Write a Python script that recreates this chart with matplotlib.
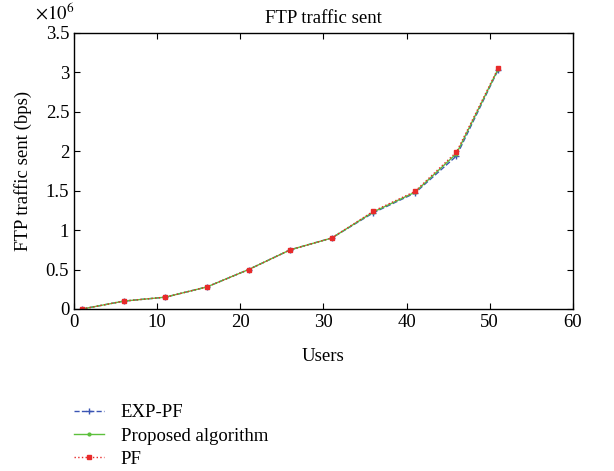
import numpy as np
import matplotlib
matplotlib.use('Agg')
import matplotlib.pyplot as plt
import matplotlib.ticker as ticker

plt.rcParams['font.family'] = ['Liberation Serif', 'DejaVu Serif']
plt.rcParams['mathtext.fontset'] = 'stix'

# Data (bps, scaled by 1e6)
users = [1, 6, 11, 16, 21, 26, 31, 36, 41, 46, 51]
exp_pf = [0.0, 0.10, 0.15, 0.28, 0.50, 0.75, 0.90, 1.22, 1.47, 1.94, 3.03]
proposed = [0.0, 0.10, 0.15, 0.28, 0.50, 0.75, 0.90, 1.23, 1.48, 1.97, 3.04]
pf = [0.0, 0.10, 0.15, 0.28, 0.50, 0.75, 0.90, 1.24, 1.49, 1.99, 3.05]

x_ticks = [0, 10, 20, 30, 40, 50, 60]
y_ticks = [0, 0.5, 1, 1.5, 2, 2.5, 3, 3.5]

FS = 13.5


def main():
    fig = plt.figure(figsize=(6.14, 4.71), dpi=100)
    ax = fig.add_axes([0.1205, 0.344, 0.8125, 0.586])

    ax.plot(users, exp_pf, color='#3a55b4', linestyle='--', marker='+',
            markersize=5, linewidth=1.0, label='EXP-PF')
    ax.plot(users, proposed, color='#5cc03c', linestyle='-', marker='.',
            markersize=4, linewidth=1.0, label='Proposed algorithm')
    ax.plot(users, pf, color='#e82a2a', linestyle=':', marker='s',
            markersize=3.5, linewidth=1.0, label='PF')

    ax.set_xlim(0, 60)
    ax.set_ylim(0, 3.5)
    ax.set_xticks(x_ticks)
    ax.set_yticks(y_ticks)
    ax.yaxis.set_major_formatter(ticker.FuncFormatter(lambda v, p: f'{v:g}'))
    ax.tick_params(direction='in', top=True, right=True, labelsize=FS,
                   length=4, width=0.8)
    for s in ax.spines.values():
        s.set_linewidth(1.0)

    ax.set_title('FTP traffic sent', fontsize=FS, pad=7)
    ax.set_xlabel('Users', fontsize=FS, labelpad=12)
    ax.set_ylabel('FTP traffic sent (bps)', fontsize=FS, labelpad=10)
    ax.text(0.0, 1.035, r'$\times 10^6$', transform=ax.transAxes,
            ha='right', va='bottom', fontsize=FS)

    fig.legend(loc='upper left', bbox_to_anchor=(0.108, 0.158),
               bbox_transform=fig.transFigure, frameon=False, fontsize=FS,
               handlelength=1.6, handletextpad=0.9, labelspacing=0.33,
               borderaxespad=0)
    fig.savefig('out.png', dpi=100)


if __name__ == '__main__':
    main()
